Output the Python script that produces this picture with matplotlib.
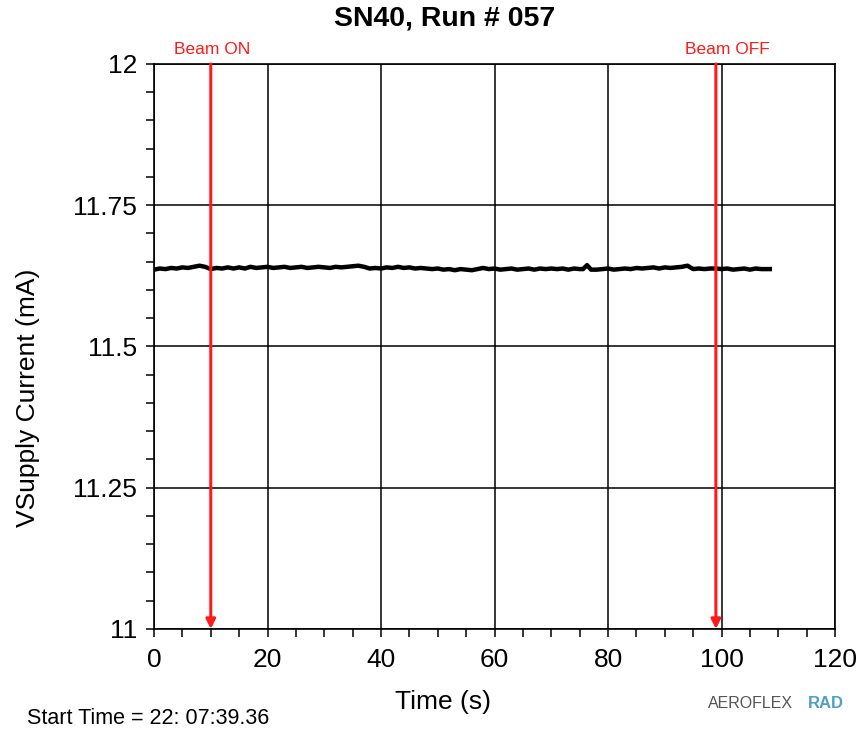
import numpy as np
import matplotlib
matplotlib.use("Agg")
import matplotlib.pyplot as plt
from matplotlib.ticker import MultipleLocator, FuncFormatter

plt.rcParams['font.family'] = ['Liberation Sans', 'DejaVu Sans']

# supply current trace (s, mA)
time_s = [0, 1, 2, 3, 4, 5, 6, 7, 8, 9, 10, 11, 12, 13, 14, 15, 16, 17, 18,
          19, 20, 21, 22, 23, 24, 25, 26, 27, 28, 29, 30, 31, 32, 33, 34, 35,
          36, 37, 38, 39, 40, 41, 42, 43, 44, 45, 46, 47, 48, 49, 50, 51, 52,
          53, 54, 55, 56, 57, 58, 59, 60, 61, 62, 63, 64, 65, 66, 67, 68, 69,
          70, 71, 72, 73, 74, 75, 75.6, 76.3, 77.0, 78, 79, 80, 81, 82, 83,
          84, 85, 86, 87, 88, 89, 90, 91, 92, 93, 94, 95, 96, 97, 98, 99, 100,
          101, 102, 103, 104, 105, 106, 107, 108.5]
current_ma = [11.636, 11.638, 11.637, 11.639, 11.638, 11.640, 11.639, 11.641,
              11.643, 11.641, 11.637, 11.639, 11.638, 11.640, 11.638, 11.640,
              11.638, 11.641, 11.639, 11.640, 11.641, 11.639, 11.640, 11.641,
              11.639, 11.640, 11.641, 11.639, 11.640, 11.641, 11.640, 11.639,
              11.641, 11.640, 11.641, 11.642, 11.643, 11.641, 11.638, 11.639,
              11.638, 11.640, 11.639, 11.641, 11.639, 11.640, 11.638, 11.639,
              11.638, 11.637, 11.638, 11.636, 11.637, 11.635, 11.637, 11.636,
              11.635, 11.637, 11.639, 11.637, 11.638, 11.636, 11.637, 11.638,
              11.636, 11.637, 11.638, 11.636, 11.638, 11.637, 11.638, 11.637,
              11.638, 11.636, 11.638, 11.637, 11.637, 11.644, 11.636, 11.636,
              11.637, 11.638, 11.636, 11.637, 11.638, 11.637, 11.639, 11.638,
              11.639, 11.640, 11.638, 11.640, 11.639, 11.640, 11.641, 11.643,
              11.637, 11.638, 11.637, 11.638, 11.638, 11.637, 11.638, 11.636,
              11.637, 11.638, 11.636, 11.638, 11.637, 11.637]

beam_on_s = 10.0
beam_off_s = 99.0
title = "SN40, Run # 057"
start_time = "Start Time = 22: 07:39.36"

fig = plt.figure(figsize=(8.6, 7.33), dpi=100)
ax = fig.add_axes([0.1791, 0.1419, 0.7919, 0.7708])

ax.plot(time_s, current_ma, color='black', linewidth=3.2, solid_joinstyle='round')

ax.set_xlim(0, 120)
ax.set_ylim(11, 12)
ax.xaxis.set_major_locator(MultipleLocator(20))
ax.xaxis.set_minor_locator(MultipleLocator(5))
ax.yaxis.set_major_locator(MultipleLocator(0.25))
ax.yaxis.set_minor_locator(MultipleLocator(0.05))
ax.yaxis.set_major_formatter(FuncFormatter(lambda v, p: f"{v:g}"))
ax.grid(True, which='major', color='black', linewidth=1.1)
ax.tick_params(which='both', direction='out', length=6, width=1.1,
               labelsize=19)
ax.tick_params(axis='x', pad=8)
ax.tick_params(axis='y', pad=6)
for s in ax.spines.values():
    s.set_linewidth(1.2)

ax.set_xlabel("Time (s)", fontsize=19)
ax.xaxis.set_label_coords(0.424, -0.108)
ax.set_ylabel("VSupply Current (mA)", fontsize=19)
ax.yaxis.set_label_coords(-0.168, 0.41)

# beam markers
for t, label, tx in [(beam_on_s, "Beam ON", 10.3), (beam_off_s, "Beam OFF", 101.1)]:
    ax.annotate("", xy=(t, 11.0), xytext=(t, 12.0), xycoords='data',
                arrowprops=dict(arrowstyle='-|>', color='#ff1a1a', lw=2.2,
                                mutation_scale=14, shrinkA=0, shrinkB=0),
                annotation_clip=False, zorder=5)
    ax.text(tx, 12.0 + 0.025, label, color='#ff1a1a', fontsize=12.5,
            ha='center', va='center')

fig.text(445 / 860, 1 - 18 / 733, title, fontsize=20.5, fontweight='bold',
         ha='center', va='center')
fig.text(27 / 860, 1 - 718 / 733, start_time, fontsize=15.5,
         ha='left', va='center')
fig.text(708 / 860, 1 - 704 / 733, "AEROFLEX", fontsize=11.5, color='#555555',
         ha='left', va='center')
fig.text(808 / 860, 1 - 704 / 733, "RAD", fontsize=12, color='#4f9fc3',
         fontweight='bold', ha='left', va='center')

fig.savefig("out.png", dpi=100)
